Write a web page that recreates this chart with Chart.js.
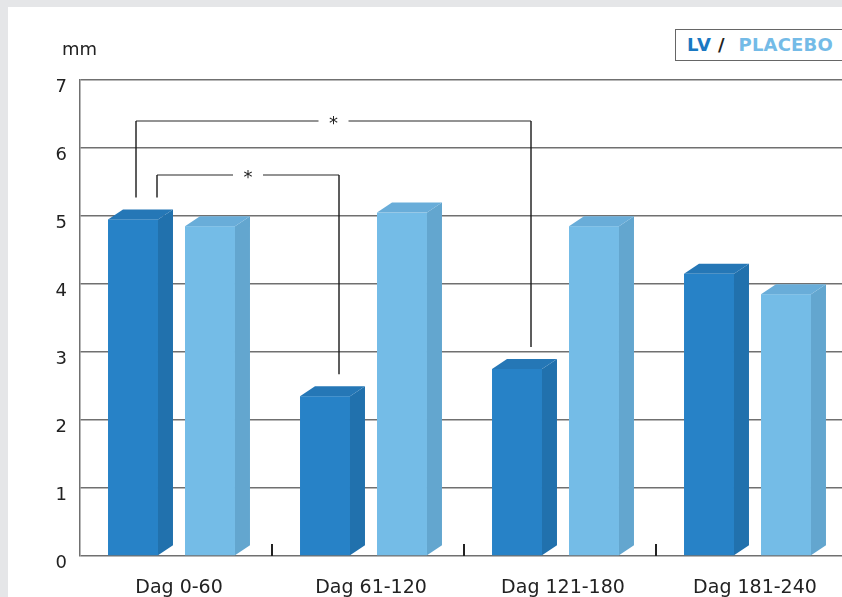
<!DOCTYPE html>
<html>
<head>
<meta charset="utf-8">
<script src="https://cdn.jsdelivr.net/npm/chart.js@4/dist/chart.umd.min.js"></script>
<style>
  html, body { margin: 0; padding: 0; overflow: hidden; background: #e5e6e8; }
  #panel { position: absolute; left: 8px; top: 7px; width: 850px; height: 600px; background: #fff; }
  #wrap { position: absolute; left: 0; top: 0; width: 848px; height: 597px; }
  #legend {
    position: absolute; left: 675px; top: 29px; width: 180px; height: 30px;
    border: 1.5px solid #666; background: #fff;
    font: bold 18px "DejaVu Sans", sans-serif; line-height: 30px; padding-left: 11px;
    white-space: nowrap;
  }
  #legend .lv { color: #1a78c2; letter-spacing: 1px; }
  #legend .sl { color: #222; margin: 0 14px 0 6px; }
  #legend .pl { color: #74bbe7; letter-spacing: 0.2px; }
</style>
</head>
<body>
<div id="panel"></div>
<div id="wrap"><canvas id="chart" width="848" height="597"></canvas></div>
<div id="legend"><span class="lv">LV</span><span class="sl">/</span><span class="pl">PLACEBO</span></div>
<script>
// data
const categories = ['Dag 0-60', 'Dag 61-120', 'Dag 121-180', 'Dag 181-240']
const lvValues = [4.95, 2.35, 2.75, 4.15]
const placeboValues = [4.85, 5.05, 4.85, 3.85]
const yTicks = [0, 1, 2, 3, 4, 5, 6, 7]
const unitLabel = 'mm'

// significance brackets (LV bars), level in mm
const brackets = [
  {from: 0, to: 2, level: 6.4, label: '*', dxFrom: 3, dxTo: 14},
  {from: 0, to: 1, level: 5.6, label: '*', dxFrom: 24, dxTo: 14}
]

const gridColor = '#707070'
const textColor = '#222'
const depthX = 15
const depthY = 10
const groupShift = -4.5

const faces = [
  {front: '#2782c7', side: '#2171ad', top: '#2577b6'},
  {front: '#74bce7', side: '#63a6cf', top: '#69add9'}
]

const bars3d = {
  id: 'bars3d',
  beforeDatasetsDraw(chart){
    const ctx = chart.ctx
    const area = chart.chartArea
    const x = chart.scales.x
    const y = chart.scales.y
    ctx.save()

    // little divider ticks between categories
    ctx.strokeStyle = textColor
    ctx.lineWidth = 2
    for(let i = 1; i < categories.length; i++){
      const px = Math.round((x.getPixelForTick(i - 1) + x.getPixelForTick(i)) / 2)
      ctx.beginPath()
      ctx.moveTo(px, area.bottom)
      ctx.lineTo(px, area.bottom - 12)
      ctx.stroke()
    }

    // 3d bars
    chart.data.datasets.forEach((ds, d) => {
      const f = faces[d]
      chart.getDatasetMeta(d).data.forEach(el => {
        const x0 = el.x - el.width / 2 + groupShift
        const x1 = x0 + el.width
        const top = el.y
        const base = el.base
        ctx.fillStyle = f.front
        ctx.fillRect(x0, top, el.width, base - top)
        ctx.fillStyle = f.side
        ctx.beginPath()
        ctx.moveTo(x1, top)
        ctx.lineTo(x1 + depthX, top - depthY)
        ctx.lineTo(x1 + depthX, base - depthY)
        ctx.lineTo(x1, base)
        ctx.closePath()
        ctx.fill()
        ctx.fillStyle = f.top
        ctx.beginPath()
        ctx.moveTo(x0, top)
        ctx.lineTo(x0 + depthX, top - depthY)
        ctx.lineTo(x1 + depthX, top - depthY)
        ctx.lineTo(x1, top)
        ctx.closePath()
        ctx.fill()
      })
    })

    // brackets
    const lv = chart.getDatasetMeta(0).data
    ctx.font = '18px "DejaVu Sans"'
    ctx.textAlign = 'center'
    ctx.textBaseline = 'middle'
    brackets.forEach(b => {
      const a = lv[b.from], c = lv[b.to]
      const xa = a.x + groupShift + b.dxFrom
      const xc = c.x + groupShift + b.dxTo
      const yl = Math.round(y.getPixelForValue(b.level))
      const mid = (xa + xc) / 2
      ctx.lineWidth = 1.4
      ctx.strokeStyle = gridColor
      ctx.beginPath()
      ctx.moveTo(xa, yl)
      ctx.lineTo(mid - 15, yl)
      ctx.moveTo(mid + 15, yl)
      ctx.lineTo(xc, yl)
      ctx.stroke()
      ctx.strokeStyle = '#1a1a1a'
      ctx.beginPath()
      ctx.moveTo(xa, yl)
      ctx.lineTo(xa, a.y - depthY - 12)
      ctx.moveTo(xc, yl)
      ctx.lineTo(xc, c.y - depthY - 12)
      ctx.stroke()
      ctx.fillStyle = textColor
      ctx.fillText(b.label, mid, yl + 3)
    })

    // unit
    ctx.textAlign = 'left'
    ctx.fillText(unitLabel, area.left - 18, area.top - 30)
    ctx.restore()
    return false
  }
}

new Chart(document.getElementById('chart'), {
  type: 'bar',
  data: {
    labels: categories,
    datasets: [
      {label: 'LV', data: lvValues, backgroundColor: faces[0].front},
      {label: 'PLACEBO', data: placeboValues, backgroundColor: faces[1].front}
    ]
  },
  options: {
    responsive: false,
    animation: false,
    categoryPercentage: 0.802,
    barPercentage: 0.649,
    layout: {padding: {top: 80, left: 0, right: 0, bottom: 0}},
    plugins: {legend: {display: false}, tooltip: {enabled: false}},
    scales: {
      x: {
        grid: {display: false},
        border: {display: false},
        ticks: {color: textColor, font: {family: 'DejaVu Sans', size: 19}, padding: 13, labelOffset: 3},
        afterFit(s){ s.height = 41 }
      },
      y: {
        min: 0,
        max: 7,
        afterBuildTicks(s){ s.ticks = yTicks.map(v => ({value: v})) },
        grid: {color: gridColor, lineWidth: 1.5, drawTicks: false},
        border: {color: gridColor, width: 1.5},
        ticks: {color: textColor, font: {family: 'DejaVu Sans', size: 18}, padding: 13, labelOffset: 7},
        afterFit(s){ s.width = 80 }
      }
    }
  },
  plugins: [bars3d]
})
</script>
</body>
</html>
